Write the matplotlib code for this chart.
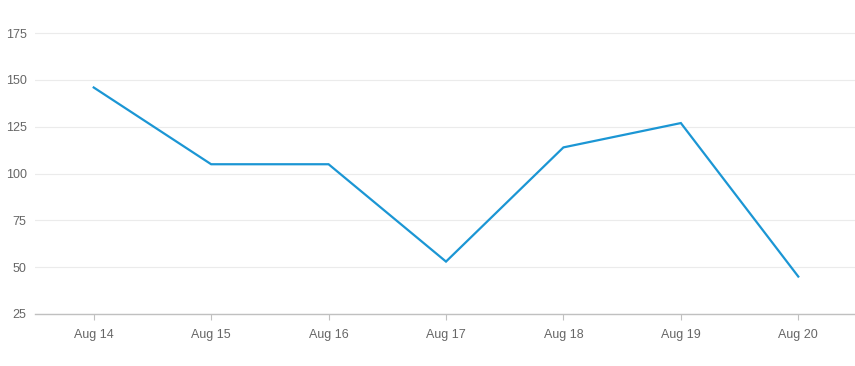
import matplotlib
matplotlib.use("Agg")
import matplotlib.pyplot as plt

days = ["Aug 14", "Aug 15", "Aug 16", "Aug 17", "Aug 18", "Aug 19", "Aug 20"]
values = [146, 105, 105, 53, 114, 127, 45]
y_ticks = [25, 50, 75, 100, 125, 150, 175]

plt.rcParams['font.family'] = ['Liberation Sans', 'DejaVu Sans']

fig = plt.figure(figsize=(8.55, 3.66), dpi=100)
ax = fig.add_axes([35 / 855, 1 - 314 / 366, 822 / 855, 314 / 366])

x = list(range(len(days)))
ax.plot(x, values, color="#1b96d4", linewidth=1.6, solid_joinstyle='miter')

ax.set_xlim(-0.5, len(days) - 0.5)
ax.set_ylim(25, 25 + 314 / 46.8 * 25)
ax.set_yticks(y_ticks)
ax.set_xticks(x)
ax.set_xticklabels(days)

# light horizontal grid
ax.grid(axis='y', color="#ebebeb", linewidth=0.8)
ax.set_axisbelow(True)

for side in ['top', 'right', 'left']:
    ax.spines[side].set_visible(False)
ax.spines['bottom'].set_color("#c0c0c0")
ax.spines['bottom'].set_linewidth(1.0)

ax.tick_params(axis='y', length=0, pad=6, labelsize=9, labelcolor="#666666")
ax.tick_params(axis='x', length=4, color="#c0c0c0", pad=7, labelsize=9, labelcolor="#666666")

fig.savefig("out.png", dpi=100)
